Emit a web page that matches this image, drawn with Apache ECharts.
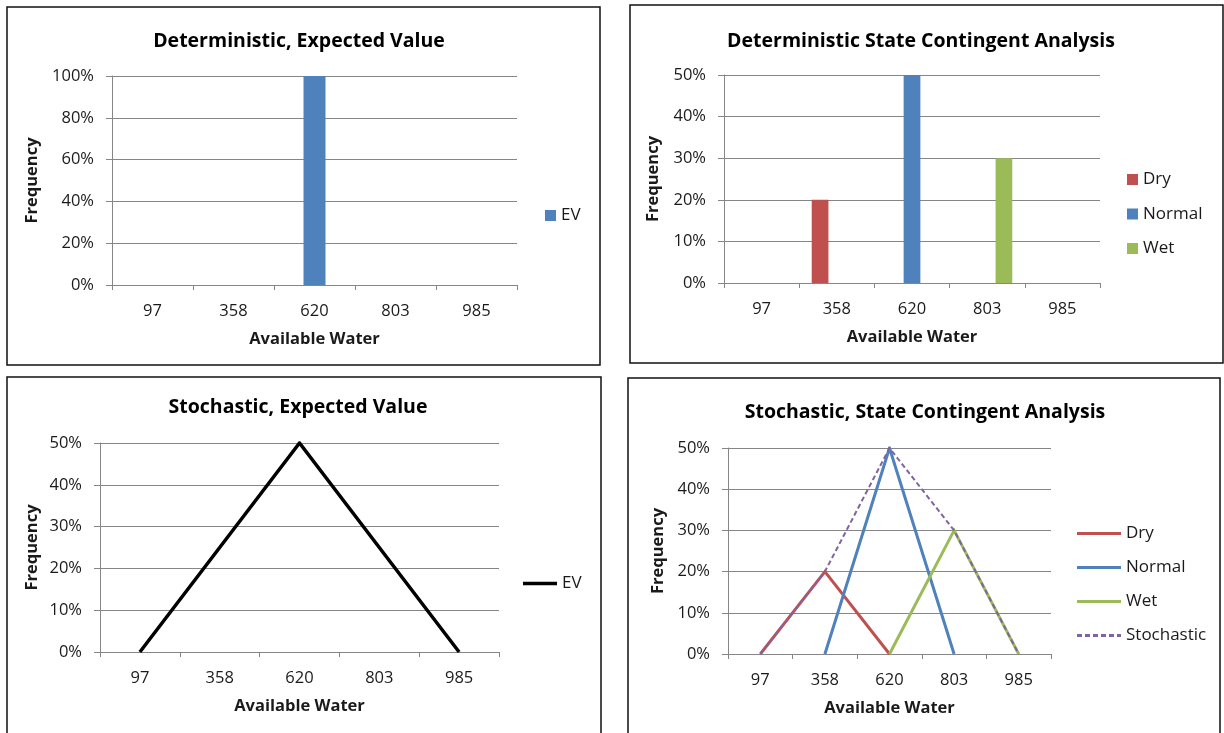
<!DOCTYPE html>
<html>
<head>
<meta charset="utf-8">
<title>Available Water Frequency</title>
<script src="https://cdn.jsdelivr.net/npm/echarts@6/dist/echarts.min.js"></script>
<style>
  html, body { margin: 0; padding: 0; background: #fff; }
  #chart { width: 1224px; height: 733px; }
</style>
</head>
<body>
<div id="chart"></div>
<script>
// Available water levels (category axis labels)
const categories = ['97', '358', '620', '803', '985'];

// Deterministic, expected value (percent)
const evBar = [0, 0, 100, 0, 0];

// Deterministic state contingent (percent)
const dryBar = [0, 20, 0, 0, 0];
const normalBar = [0, 0, 50, 0, 0];
const wetBar = [0, 0, 0, 30, 0];

// Stochastic, expected value (percent)
const evLine = [0, 25, 50, 25, 0];

// Stochastic state contingent (percent); null = no point
const dryLine = [0, 20, 0, null, null];
const normalLine = [null, 0, 50, 0, null];
const wetLine = [null, null, 0, 30, 0];
const stochasticLine = [0, 20, 50, 30, 0];

// Y axis tick ranges (percent)
const yMaxTop = 100, yStepTop = 20;
const yMaxOther = 50, yStepOther = 10;

const FONT = '"Open Sans", "Liberation Sans", sans-serif';
const GRAY = '#868686';
const TXT = '#1a1a1a';
const RED = '#C0504D', BLUE = '#4F81BD', GREEN = '#9BBB59', PURPLE = '#8064A2';

// Legend glyphs for line series: a solid bar and a dashed bar
const LINE_ICON = 'rect';
const DASH_ICON = 'path://M0,0h5v2h-5zM8,0h5v2h-5zM16,0h5v2h-5zM24,0h5v2h-5zM32,0h5v2h-5zM40,0h4v2h-4z';

const grids = [
  { left: 112, top: 76, width: 405, height: 209 },
  { left: 724, top: 75, width: 376, height: 208 },
  { left: 100, top: 443, width: 399, height: 209 },
  { left: 728, top: 448, width: 323, height: 206 }
];

function xAxisFor(i) {
  return {
    type: 'category', gridIndex: i, data: categories, boundaryGap: true,
    axisLine: { show: true, lineStyle: { color: GRAY, width: 1 } },
    axisTick: { show: true, interval: 0, length: 5, lineStyle: { color: GRAY } },
    axisLabel: { interval: 0, margin: 18, color: TXT, fontFamily: FONT, fontSize: 16.5 },
    splitLine: { show: false },
    name: 'Available Water', nameLocation: 'middle', nameGap: 46,
    nameTextStyle: { fontFamily: FONT, fontSize: 16.5, fontWeight: 'bold', color: TXT }
  };
}

function yAxisFor(i, max, step, gap) {
  return {
    type: 'value', gridIndex: i, min: 0, max: max, interval: step,
    axisLine: { show: true, lineStyle: { color: GRAY, width: 1 } },
    axisTick: { show: true, length: 6, lineStyle: { color: GRAY } },
    axisLabel: { margin: 18, color: TXT, fontFamily: FONT, fontSize: 16.5, formatter: '{value}%' },
    splitLine: { show: true, lineStyle: { color: GRAY, width: 1 } },
    name: 'Frequency', nameLocation: 'middle', nameGap: gap, nameRotate: 90,
    nameTextStyle: { fontFamily: FONT, fontSize: 16.5, fontWeight: 'bold', color: TXT }
  };
}

function titleAt(text, x, y) {
  return {
    text: text, left: x, top: y, textAlign: 'center', padding: 0,
    textStyle: { fontFamily: FONT, fontSize: 19.5, fontWeight: 'bold', color: '#000' }
  };
}

function lineSeries(name, data, color, xi, width, dashed) {
  return {
    type: 'line', name: name, data: data, xAxisIndex: xi, yAxisIndex: xi,
    symbol: 'none', showSymbol: false, connectNulls: false, animation: false,
    lineStyle: { color: color, width: width, type: dashed ? [5, 3] : 'solid', cap: 'butt', join: 'miter' },
    itemStyle: { color: color }
  };
}

const legendText = { fontFamily: FONT, fontSize: 17, color: TXT, lineHeight: 14 };

const option = {
  animation: false,
  backgroundColor: '#fff',
  title: [
    titleAt('Deterministic, Expected Value', 299, 31),
    titleAt('Deterministic State Contingent Analysis', 921, 31),
    titleAt('Stochastic, Expected Value', 298, 397),
    titleAt('Stochastic, State Contingent Analysis', 925, 402)
  ],
  grid: grids,
  xAxis: [xAxisFor(0), xAxisFor(1), xAxisFor(2), xAxisFor(3)],
  yAxis: [
    yAxisFor(0, yMaxTop, yStepTop, 71),
    yAxisFor(1, yMaxOther, yStepOther, 62),
    yAxisFor(2, yMaxOther, yStepOther, 59),
    yAxisFor(3, yMaxOther, yStepOther, 61)
  ],
  legend: [
    {
      data: ['EV'], orient: 'vertical', left: 545, top: 207, padding: 0,
      icon: 'rect', itemWidth: 11, itemHeight: 11, textStyle: legendText
    },
    {
      data: ['Dry', 'Normal', 'Wet'], orient: 'vertical', left: 1127, top: 171, padding: 0,
      icon: 'rect', itemWidth: 11, itemHeight: 11, itemGap: 17.5, textStyle: legendText
    },
    {
      data: [{ name: 'EV ', icon: LINE_ICON }], orient: 'vertical', left: 523, top: 575, padding: 0,
      itemWidth: 34, itemHeight: 3.5, symbolKeepAspect: false, textStyle: legendText
    },
    {
      data: [
        { name: 'Dry ', icon: LINE_ICON },
        { name: 'Normal ', icon: LINE_ICON },
        { name: 'Wet ', icon: LINE_ICON },
        { name: 'Stochastic', icon: DASH_ICON }
      ],
      orient: 'vertical', left: 1077, top: 525, padding: 0,
      itemWidth: 44, itemHeight: 3, symbolKeepAspect: false, itemGap: 17, textStyle: legendText
    }
  ],
  series: [
    {
      type: 'bar', name: 'EV', data: evBar, xAxisIndex: 0, yAxisIndex: 0,
      barWidth: 22, itemStyle: { color: BLUE }
    },
    {
      type: 'bar', name: 'Dry', data: dryBar, xAxisIndex: 1, yAxisIndex: 1,
      barGap: '0%', barCategoryGap: '33.3%', itemStyle: { color: RED }
    },
    {
      type: 'bar', name: 'Normal', data: normalBar, xAxisIndex: 1, yAxisIndex: 1,
      barGap: '0%', barCategoryGap: '33.3%', itemStyle: { color: BLUE }
    },
    {
      type: 'bar', name: 'Wet', data: wetBar, xAxisIndex: 1, yAxisIndex: 1,
      barGap: '0%', barCategoryGap: '33.3%', itemStyle: { color: GREEN }
    },
    lineSeries('EV ', evLine, '#000', 2, 3.5, false),
    lineSeries('Dry ', dryLine, RED, 3, 3, false),
    lineSeries('Normal ', normalLine, BLUE, 3, 3, false),
    lineSeries('Wet ', wetLine, GREEN, 3, 3, false),
    lineSeries('Stochastic', stochasticLine, PURPLE, 3, 2, true)
  ],
  graphic: [
    { type: 'rect', shape: { x: 7, y: 7, width: 593, height: 358 }, style: { fill: null, stroke: '#111', lineWidth: 1.5 }, silent: true },
    { type: 'rect', shape: { x: 630, y: 5, width: 593, height: 358 }, style: { fill: null, stroke: '#111', lineWidth: 1.5 }, silent: true },
    { type: 'rect', shape: { x: 7, y: 377, width: 594, height: 370 }, style: { fill: null, stroke: '#111', lineWidth: 1.5 }, silent: true },
    { type: 'rect', shape: { x: 628, y: 378, width: 592, height: 370 }, style: { fill: null, stroke: '#111', lineWidth: 1.5 }, silent: true }
  ]
};

const chart = echarts.init(document.getElementById('chart'), null, { renderer: 'canvas' });
chart.setOption(option);
</script>
</body>
</html>
